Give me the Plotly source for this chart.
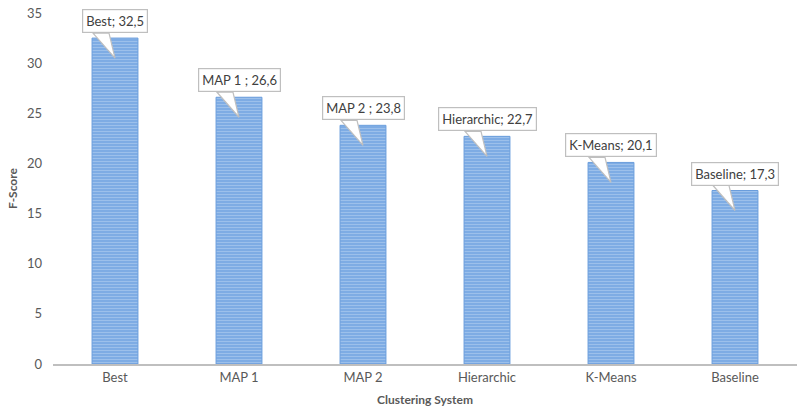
import plotly.graph_objects as go

systems = ["Best", "MAP 1", "MAP 2", "Hierarchic", "K-Means", "Baseline"]
f_scores = [32.5, 26.6, 23.8, 22.7, 20.1, 17.3]
callout_names = ["Best", "MAP 1 ", "MAP 2 ", "Hierarchic", "K-Means", "Baseline"]
y_ticks = [0, 5, 10, 15, 20, 25, 30, 35]

font_family = "Lato, Carlito, Calibri, sans-serif"
callout_line = "#bfbfbf"

fig = go.Figure()
fig.add_trace(go.Bar(
    x=systems,
    y=f_scores,
    width=0.37,
    marker=dict(
        color="#7eace4",
        line=dict(color="#6a9ddc", width=1),
        pattern=dict(shape="-", fgcolor="#b9d3f2", bgcolor="#7eace4",
                     size=3, solidity=0.35),
    ),
    hoverinfo="skip",
))

for cat, name, val in zip(systems, callout_names, f_scores):
    label = f"{name}; {str(val).replace('.', ',')}"
    # callout pointer: a thin wedge from the box down into the bar
    fig.add_shape(
        type="path", xref="x", yref="y",
        xsizemode="pixel", ysizemode="pixel",
        xanchor=cat, yanchor=val,
        path="M -22,5 L 0,-20 L -6,5 Z",
        fillcolor="white", line=dict(color=callout_line, width=1.2),
        layer="above",
    )
    fig.add_annotation(
        x=cat, y=val, yanchor="bottom", yshift=5,
        text=label, showarrow=False,
        bgcolor="white", bordercolor=callout_line, borderwidth=1.2, borderpad=3,
        font=dict(family=font_family, size=13, color="#404040"),
    )

fig.update_layout(
    width=797, height=411,
    margin=dict(l=53, r=0, t=13, b=47),
    paper_bgcolor="white", plot_bgcolor="white",
    showlegend=False,
    font=dict(family=font_family, size=13, color="#595959"),
    bargap=0.63,
)
fig.update_xaxes(
    showgrid=False, showline=True, linecolor="#bfbfbf", linewidth=2,
    ticks="", tickfont=dict(size=13, color="#595959"),
    title=dict(text="<b>Clustering System</b>", standoff=12,
               font=dict(size=12, color="#595959")),
)
fig.update_yaxes(
    range=[0, 35], tickvals=y_ticks, showgrid=False, zeroline=False,
    showline=False, ticks="", ticklabelstandoff=10,
    tickfont=dict(size=13, color="#595959"),
    title=dict(text="<b>F-Score</b>", standoff=6,
               font=dict(size=12, color="#595959")),
)

fig.write_html("out.html")
